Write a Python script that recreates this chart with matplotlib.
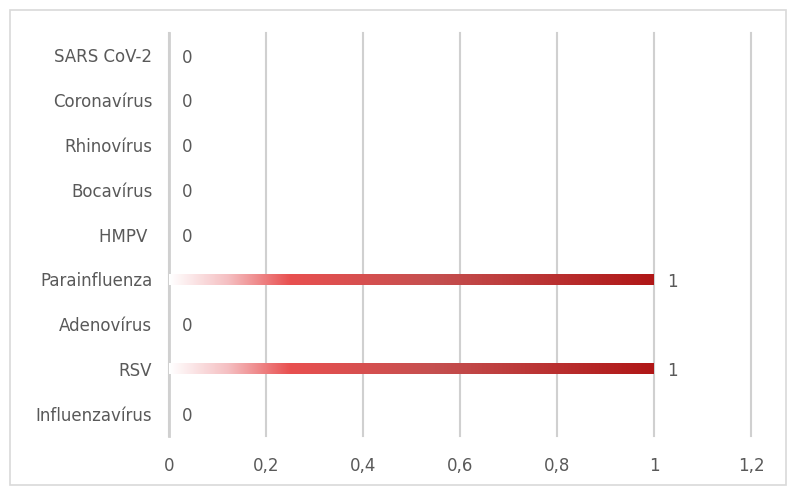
import numpy as np
import matplotlib.pyplot as plt
from matplotlib.colors import LinearSegmentedColormap
from matplotlib.patches import Rectangle

plt.rcParams['font.family'] = ['DejaVu Sans']

# dados
categorias = ['Influenzavírus', 'RSV', 'Adenovírus', 'Parainfluenza', 'HMPV ',
              'Bocavírus', 'Rhinovírus', 'Coronavírus', 'SARS CoV-2']
valores = [0, 1, 0, 1, 0, 0, 0, 0, 0]
xticks = [0, 0.2, 0.4, 0.6, 0.8, 1.0, 1.2]
xticklabels = ['0', '0,2', '0,4', '0,6', '0,8', '1', '1,2']

texto = '#595959'
grade = '#D0D0D0'

fig = plt.figure(figsize=(7.97, 4.95), dpi=100)
ax = fig.add_axes([169/797, 1 - 436/495, (751-169)/797, (436-33)/495])

# borda do gráfico
fig.patches.append(Rectangle((10/797, 10/495), 776/797, 475/495, transform=fig.transFigure,
                             fill=False, edgecolor='#D9D9D9', linewidth=1.2))

# gradiente das barras
cmap = LinearSegmentedColormap.from_list('grad', [
    (0.0, (1.0, 1.0, 1.0, 1.0)),
    (0.12, (0.96, 0.75, 0.76, 1.0)),
    (0.25, (0.91, 0.31, 0.31, 1.0)),
    (0.55, (0.77, 0.31, 0.31, 1.0)),
    (1.0, (0.69, 0.09, 0.09, 1.0)),
])
grad = np.linspace(0, 1, 256).reshape(1, -1)

y = np.arange(len(categorias))
altura = 0.25
bars = ax.barh(y, valores, height=altura, color='none', edgecolor='none', zorder=3)
for b, v in zip(bars, valores):
    if v > 0:
        yb = b.get_y()
        im = ax.imshow(grad, cmap=cmap, aspect='auto', extent=[0, v, yb, yb + altura],
                       zorder=3, interpolation='bilinear')
        im.set_clip_path(b)

for yi, v in zip(y, valores):
    ax.text(v + 0.027, yi - 0.05, str(v), va='center', ha='left', fontsize=12, color=texto)

ax.set_xlim(0, 1.2)
ax.set_ylim(-0.5, len(categorias) - 0.5)
ax.set_xticks(xticks)
ax.set_xticklabels(xticklabels)
ax.set_yticks(y)
ax.set_yticklabels(categorias)
ax.tick_params(length=0, labelsize=12, colors=texto)
ax.tick_params(axis='x', pad=15)
ax.tick_params(axis='y', pad=12)
ax.grid(axis='x', color=grade, linewidth=1.5, zorder=0)
for gl in ax.get_xgridlines():
    gl.set_clip_on(False)
ax.set_axisbelow(True)
for s in ['top', 'right', 'bottom']:
    ax.spines[s].set_visible(False)
ax.spines['left'].set_color(grade)
ax.spines['left'].set_linewidth(2)

fig.savefig('out.png', dpi=100)
